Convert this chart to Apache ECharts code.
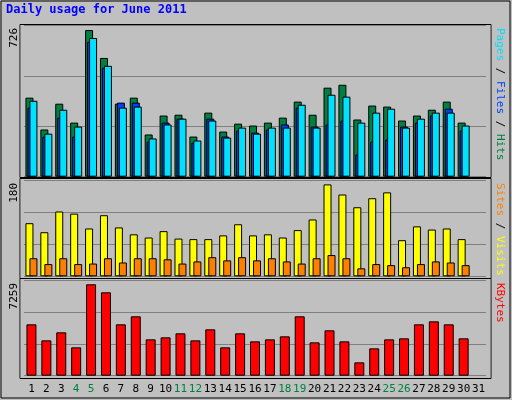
<!DOCTYPE html><html><head><meta charset="utf-8">
<script src="https://cdn.jsdelivr.net/npm/echarts@6/dist/echarts.min.js"></script>
<style>html,body{margin:0;padding:0;background:#c0c0c0}#c{width:512px;height:400px}</style></head><body><div id="c"></div>
<script>
const days=[];for(let i=1;i<=31;i++)days.push(String(i));
const weekends=['4','5','11','12','18','19','25','26'];
const hits=[380,227,351,260,705,571,351,380,203,294,298,193,308,217,255,246,260,284,361,298,428,442,275,342,337,270,294,322,361,260,null];
const files=[332,193,284,193,648,524,356,356,169,260,279,164,279,193,222,212,227,251,332,241,251,270,107,169,179,241,260,294,327,222,null];
const pages=[365,207,322,241,667,533,332,337,184,251,279,174,270,188,236,207,236,236,346,236,394,385,260,308,327,236,279,308,308,246,null];
const visits=[100,83,122,118,90,115,92,79,73,85,71,70,70,77,98,77,79,73,87,107,173,154,130,147,158,68,94,88,90,70,null];
const sites=[34,23,34,23,24,34,26,34,34,32,24,28,36,30,36,30,34,28,24,34,40,34,15,23,21,17,23,28,26,21,null];
const kbytes=[3909,2690,3299,2157,6954,6345,3909,4518,2766,2919,3223,2690,3528,2157,3223,2614,2766,2995,4518,2538,3452,2614,1015,2081,2766,2843,3909,4137,3909,2843,null];
const maxTop=726,maxMid=180,maxBot=7259;
const F='DejaVu Sans Mono';
const grids=[{left:24,width:462,top:25.7,height:151},{left:24,width:462,top:180.7,height:95.6},{left:24,width:462,top:280.3,height:95.4}];
function xa(i,show){return {type:'category',gridIndex:i,data:days,axisLine:{show:false},axisTick:{show:false},
 axisLabel:{show:show,interval:0,fontFamily:F,fontSize:11,margin:8,color:(v)=>weekends.includes(v)?'#008040':'#000'}};}
function ya(i,max){return {type:'value',gridIndex:i,min:0,max:max,interval:max/3,axisLabel:{show:false},axisLine:{show:false},axisTick:{show:false},splitLine:{lineStyle:{color:'#808080',width:1}}};}
const bs={borderColor:'#000',borderWidth:1};
function bar(name,data,i,color,w,gap){return {name,type:'bar',xAxisIndex:i,yAxisIndex:i,data,barWidth:w,barGap:gap,itemStyle:Object.assign({color},bs),animation:false};}
function frame(y,h){return {type:'rect',shape:{x:20,y:y,width:471,height:h},style:{fill:'none',stroke:'#000',lineWidth:1},z:-1};}
function rtext(x,y,rich,text){return {type:'text',x:x,y:y,rotation:Math.PI/2,style:{text:text,rich:rich,font:'11px '+F,align:'right',verticalAlign:'middle'}};}
const chart=echarts.init(document.getElementById('c'));
chart.setOption({backgroundColor:'#c0c0c0',animation:false,grid:grids,
 xAxis:[xa(0,false),xa(1,false),xa(2,true)],yAxis:[ya(0,maxTop),ya(1,maxMid),ya(2,maxBot)],
 series:[bar('Hits',hits,0,'#008040',8,'-75%'),bar('Files',files,0,'#0040ff',8,'-75%'),bar('Pages',pages,0,'#00e0ff',8,'-75%'),
  bar('Visits',visits,1,'#ffff00',8,'-50%'),bar('Sites',sites,1,'#ff8000',8,'-50%'),bar('KBytes',kbytes,2,'#ff0000',10,'0%')],
 graphic:[
  {type:'rect',shape:{x:1,y:1,width:509,height:397},style:{fill:'none',stroke:'#000',lineWidth:1},z:-2},
  {type:'rect',shape:{x:20,y:24,width:471,height:355},style:{fill:'#fff'},z:-3},
  {type:'rect',shape:{x:21,y:25,width:469,height:353},style:{fill:'#c0c0c0'},z:-3},
  frame(24.5,153),frame(178.5,100),frame(278.5,100),
  {type:'text',x:6,y:10,style:{text:'Daily usage for June 2011',font:'bold 12px '+F,fill:'#0000ff',verticalAlign:'middle'}},
  rtext(14,28,{},'726'),rtext(14,183,{},'180'),rtext(14,283,{},'7259'),
  {type:'text',x:500,y:28,rotation:-Math.PI/2,style:{text:'{p|Pages} / {f|Files} / {h|Hits}',rich:{p:{fill:'#00e0ff',font:'11px '+F},f:{fill:'#0040ff',font:'11px '+F},h:{fill:'#008040',font:'11px '+F}},font:'11px '+F,fill:'#000',align:'left',verticalAlign:'middle'}},
  {type:'text',x:500,y:183,rotation:-Math.PI/2,style:{text:'{s|Sites} / {v|Visits}',rich:{s:{fill:'#ff8000',font:'11px '+F},v:{fill:'#ffff00',font:'11px '+F}},font:'11px '+F,fill:'#000',align:'left',verticalAlign:'middle'}},
  {type:'text',x:500,y:283,rotation:-Math.PI/2,style:{text:'KBytes',font:'11px '+F,fill:'#ff0000',align:'left',verticalAlign:'middle'}}
 ]});
</script></body></html>
